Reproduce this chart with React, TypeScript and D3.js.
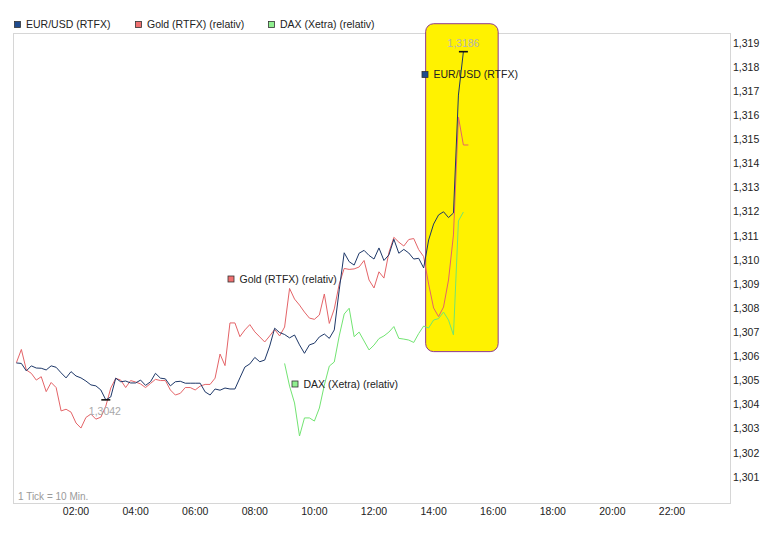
import React, { useRef, useEffect } from "react";
import * as d3 from "d3";

// one value every 10 minutes, starting 00:00
const eurUsd = [
  1.30573, 1.30571, 1.3054, 1.30561, 1.30552, 1.30551, 1.30544, 1.30561, 1.30555, 1.30532,
  1.30511, 1.30537, 1.30519, 1.30511, 1.30498, 1.30482, 1.30478, 1.30461, 1.3042, 1.30432,
  1.3051, 1.30495, 1.30498, 1.3049, 1.3049, 1.30502, 1.3048, 1.30495, 1.3053, 1.3051,
  1.30507, 1.30478, 1.30495, 1.30497, 1.30489, 1.30489, 1.30489, 1.30489, 1.30453, 1.3044,
  1.30465, 1.3046, 1.30469, 1.30465, 1.30465, 1.30511, 1.30556, 1.30569, 1.30596, 1.30578,
  1.30585, 1.30643, 1.30717, 1.30699, 1.30691, 1.30677, 1.30689, 1.30648, 1.30613, 1.30648,
  1.30655, 1.30681, 1.30693, 1.30675, 1.3071, 1.30876, 1.3103, 1.30993, 1.30979, 1.31028,
  1.3104, 1.31019, 1.31004, 1.3105, 1.30998, 1.31021, 1.31086, 1.31028, 1.31044, 1.31029,
  1.31004, 1.31007, 1.30967, 1.31083, 1.31149, 1.31187, 1.312, 1.31176, 1.31195, 1.31684,
  1.31864,
];

const gold = [
  1.30574, 1.30629, 1.30544, 1.3053, 1.30502, 1.30516, 1.30454, 1.30492, 1.30471, 1.30374,
  1.30381, 1.30369, 1.30324, 1.30303, 1.30347, 1.30361, 1.3034, 1.30348, 1.30394, 1.30469,
  1.30509, 1.30502, 1.30471, 1.305, 1.30494, 1.30486, 1.30471, 1.30488, 1.30505, 1.305,
  1.305, 1.30461, 1.3044, 1.30447, 1.30471, 1.30471, 1.30461, 1.30477, 1.30484, 1.30484,
  1.3051, 1.3061, 1.30562, 1.30739, 1.30739, 1.30682, 1.3071, 1.30732, 1.30702, 1.30681,
  1.3066, 1.30685, 1.30712, 1.30685, 1.30722, 1.30882, 1.30838, 1.30813, 1.30784, 1.30759,
  1.30754, 1.30772, 1.30859, 1.30737, 1.30797, 1.309, 1.30965, 1.30961, 1.30963, 1.30971,
  1.30998, 1.30917, 1.30884, 1.30951, 1.30925, 1.31031, 1.31094, 1.31074, 1.31058, 1.31085,
  1.31089, 1.31043, 1.31014, 1.309, 1.30801, 1.30765, 1.30805, 1.30917, 1.31104, 1.31593,
  1.31477, 1.31477,
];

// DAX starts at 09:00 (tick 54)
const daxStart = 54;
const dax = [
  1.30571, 1.30477, 1.30407, 1.3027, 1.30345, 1.30345, 1.30332, 1.30386, 1.30481, 1.3056,
  1.30577, 1.30685, 1.30776, 1.308, 1.30682, 1.30701, 1.30664, 1.30627, 1.30647, 1.30674,
  1.30685, 1.30701, 1.30724, 1.30675, 1.30672, 1.30668, 1.30658, 1.30695, 1.30726, 1.30718,
  1.30751, 1.30757, 1.30784, 1.30751, 1.30689, 1.31162, 1.31199,
];

const seriesNames = ["EUR/USD (RTFX)", "Gold (RTFX) (relativ)", "DAX (Xetra) (relativ)"];
const xTickLabels = ["02:00", "04:00", "06:00", "08:00", "10:00", "12:00", "14:00", "16:00", "18:00", "20:00", "22:00"];
const yTicks = [
  1.301, 1.302, 1.303, 1.304, 1.305, 1.306, 1.307, 1.308, 1.309, 1.31,
  1.311, 1.312, 1.313, 1.314, 1.315, 1.316, 1.317, 1.318, 1.319,
];
// highlighted window (minutes, values)
const highlightTime = [824, 970];
const highlightValue = [1.3062, 1.3198];

const W = 779;
const H = 535;

export default function App() {
  const svgRef = useRef<SVGSVGElement | null>(null);

  useEffect(() => {
    const svg = d3.select(svgRef.current);
    svg.selectAll("*").remove();

    const font = "'Liberation Sans', Arial, sans-serif";
    const frame = { left: 13, top: 33, right: 730, bottom: 503 };
    const colors = {
      eur: "#1d3768", eurBox: "#1f4b8e",
      gold: "#e46468", goldBox: "#f07070",
      dax: "#72e472", daxBox: "#8fef8f",
    };

    const x = d3.scaleLinear().domain([0, 24 * 60]).range([16.4, 731.6]);
    const y = d3.scaleLinear().domain([1.301, 1.319]).range([477, 43]);
    const comma = (v: number, p: number) => d3.format(`.${p}f`)(v).replace(".", ",");

    svg.append("rect").attr("width", W).attr("height", H).attr("fill", "#fff");

    // frame
    svg.append("rect")
      .attr("x", frame.left + 0.5).attr("y", frame.top + 0.5)
      .attr("width", frame.right - frame.left).attr("height", frame.bottom - frame.top)
      .attr("fill", "none").attr("stroke", "#d6d6d6");

    // highlight box
    svg.append("rect")
      .attr("x", x(highlightTime[0])).attr("y", y(highlightValue[1]))
      .attr("width", x(highlightTime[1]) - x(highlightTime[0]))
      .attr("height", y(highlightValue[0]) - y(highlightValue[1]))
      .attr("rx", 8).attr("ry", 8)
      .attr("fill", "#fff200").attr("stroke", "#8e3a8e");

    // y labels
    svg.append("g").selectAll("text").data(yTicks).join("text")
      .attr("x", 733).attr("y", (d) => y(d)).attr("dy", "0.35em")
      .attr("font-family", font).attr("font-size", 10.5).attr("fill", "#222")
      .text((d) => comma(d, 3));

    // x labels
    svg.append("g").selectAll("text").data(xTickLabels).join("text")
      .attr("x", (_, i) => x((i + 1) * 120)).attr("y", 511).attr("dy", "0.35em")
      .attr("text-anchor", "middle")
      .attr("font-family", font).attr("font-size", 10.5).attr("fill", "#222")
      .text((d) => d);

    svg.append("text").attr("x", 18).attr("y", 496).attr("dy", "0.35em")
      .attr("font-family", font).attr("font-size", 10).attr("fill", "#9a9a9a")
      .text("1 Tick = 10 Min.");

    const line = (offset: number) => d3.line<number>()
      .x((_, i) => x((i + offset) * 10))
      .y((d) => y(d));

    svg.append("path").datum(gold).attr("d", line(0)).attr("fill", "none")
      .attr("stroke", colors.gold).attr("stroke-width", 1);
    svg.append("path").datum(dax).attr("d", line(daxStart)).attr("fill", "none")
      .attr("stroke", colors.dax).attr("stroke-width", 1);
    svg.append("path").datum(eurUsd).attr("d", line(0)).attr("fill", "none")
      .attr("stroke", colors.eur).attr("stroke-width", 1);

    // min / max markers
    const minI = d3.minIndex(eurUsd);
    const maxI = d3.maxIndex(eurUsd);
    [minI, maxI].forEach((i) => {
      svg.append("line")
        .attr("x1", x(i * 10) - 4.5).attr("x2", x(i * 10) + 4.5)
        .attr("y1", y(eurUsd[i])).attr("y2", y(eurUsd[i]))
        .attr("stroke", "#111").attr("stroke-width", 1.6);
    });
    svg.append("text").attr("x", x(minI * 10) - 17).attr("y", y(eurUsd[minI]) + 11).attr("dy", "0.35em")
      .attr("font-family", font).attr("font-size", 10.5).attr("fill", "#a8a8a8")
      .text(comma(eurUsd[minI], 4));
    svg.append("text").attr("x", x(maxI * 10)).attr("y", y(eurUsd[maxI]) - 8).attr("dy", "0.35em")
      .attr("text-anchor", "middle")
      .attr("font-family", font).attr("font-size", 10.5).attr("fill", "#b4b4b4")
      .text(comma(eurUsd[maxI], 4));

    // legend + inline labels
    const swatch = (px: number, py: number, fill: string, label: string) => {
      svg.append("rect").attr("x", px + 0.5).attr("y", py + 0.5).attr("width", 6).attr("height", 6)
        .attr("fill", fill).attr("stroke", "#333").attr("stroke-width", 0.8);
      svg.append("text").attr("x", px + 12).attr("y", py + 3.5).attr("dy", "0.35em")
        .attr("font-family", font).attr("font-size", 10.5).attr("fill", "#222")
        .text(label);
    };
    swatch(14, 21, colors.eurBox, seriesNames[0]);
    swatch(135, 21, colors.goldBox, seriesNames[1]);
    swatch(268, 21, colors.daxBox, seriesNames[2]);
    swatch(421.5, 71, colors.eurBox, seriesNames[0]);
    swatch(227.5, 275.5, colors.goldBox, seriesNames[1]);
    swatch(291.5, 380.5, colors.daxBox, seriesNames[2]);
  }, []);

  return (
    <div style={{ position: "absolute", left: 0, top: 0 }}>
      <svg ref={svgRef} width={W} height={H} />
    </div>
  );
}
